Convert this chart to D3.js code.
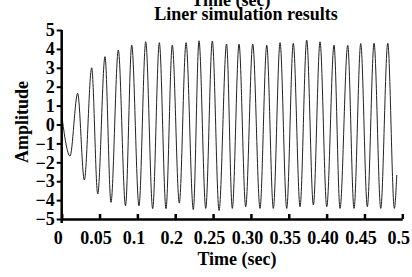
<!DOCTYPE html>
<html>
<head>
<meta charset="utf-8">
<script src="https://cdn.jsdelivr.net/npm/d3@7"></script>
<style>
  body { margin: 0; background: #fff; }
  svg { display: block; }
</style>
</head>
<body>
<div id="chart"></div>
<script>
// extrema of the response (time in s, amplitude)
const times = [0, 0.0110, 0.0211, 0.0299, 0.0396, 0.0476, 0.0572, 0.0651, 0.0748, 0.0843,
  0.0925, 0.1021, 0.1110, 0.1202, 0.1290, 0.1378, 0.1461, 0.1554, 0.1643, 0.1739,
  0.1814, 0.1903, 0.1990, 0.2079, 0.2178, 0.2254, 0.2343, 0.2431, 0.2524, 0.2620,
  0.2709, 0.2796, 0.2885, 0.2973, 0.3060, 0.3149, 0.3237, 0.3325, 0.3413, 0.3502,
  0.3598, 0.3677, 0.3779, 0.3862, 0.3951, 0.4038, 0.4127, 0.4215, 0.4308, 0.4395, 0.4427];
const amplitude = [0.5, -1.67, 1.65, -2.94, 3.0, -3.68, 3.59, -4.12, 3.94, -4.3,
  4.2, -4.3, 4.38, -4.45, 4.33, -4.45, 4.2, -4.16, 4.33, -4.5,
  4.43, -4.44, 4.42, -4.55, 4.26, -4.44, 4.26, -4.35, 4.26, -4.44,
  4.2, -4.44, 4.33, -4.44, 4.3, -4.35, 4.47, -4.26, 4.38, -4.35,
  4.2, -4.44, 4.19, -4.44, 4.28, -4.35, 4.3, -4.44, 4.3, -4.44, -2.67];

// tick positions are evenly spaced, labels as printed on the original
const xTickValues = [0, 0.05, 0.1, 0.15, 0.2, 0.25, 0.3, 0.35, 0.4, 0.45];
const xTickLabels = ["0", "0.05", "0.1", "0.2", "0.25", "0.30", "0.35", "0.40", "0.45", "0.5"];
const yTicks = [5, 4, 3, 2, 1, 0, -1, -2, -3, -4, -5];

const data = times.map((t, i) => ({t: t, v: amplitude[i]}));

const font = "'Liberation Serif', 'Times New Roman', Times, serif";

const width = 412;
const height = 277;
const margin = ({top: 30, right: 9.7, bottom: 58, left: 61.7});

const x = d3.scaleLinear()
      .domain([0, 0.45])
      .range([margin.left, width - margin.right]);

const y = d3.scaleLinear()
      .domain([-5, 5])
      .range([height - margin.bottom, margin.top]);

const svg = d3.select("#chart").append("svg")
      .attr("width", width)
      .attr("height", height)
      .attr("viewBox", [0, 0, width, height])
      .attr("font-family", font)
      .attr("font-weight", "bold");

const line = d3.line()
      .curve(d3.curveMonotoneX)
      .x(d => x(d.t))
      .y(d => y(d.v));

svg.append("path")
    .datum(data)
    .attr("fill", "none")
    .attr("stroke", "#222")
    .attr("stroke-width", 1)
    .attr("d", line);

const xAxis = g => g
      .attr("transform", `translate(0,${y(-5)})`)
      .call(d3.axisBottom(x)
            .tickValues(xTickValues)
            .tickFormat((d, i) => xTickLabels[i])
            .tickSize(-5)
            .tickSizeOuter(0)
            .tickPadding(12))
      .attr("font-family", font)
      .attr("font-size", 18)
      .call(g => g.select(".domain").attr("stroke-width", 2.5))
      .call(g => g.selectAll(".tick line").attr("stroke-width", 2.5))
      .call(g => g.selectAll(".tick text")
            .attr("fill", "#000")
            .attr("dx", -4));

const yAxis = g => g
      .attr("transform", `translate(${x(0)},0)`)
      .call(d3.axisLeft(y)
            .tickValues(yTicks)
            .tickSize(5)
            .tickSizeOuter(0)
            .tickPadding(2))
      .attr("font-family", font)
      .attr("font-size", 18)
      .call(g => g.select(".domain")
            .attr("d", `M0,${y(5)}V${y(-5) + 4}`)
            .attr("stroke-width", 2.5))
      .call(g => g.selectAll(".tick line").attr("stroke-width", 2))
      .call(g => g.selectAll(".tick text").attr("fill", "#000"));

svg.append("g").call(xAxis);
svg.append("g").call(yAxis);

svg.append("text")
    .attr("x", 231)
    .attr("y", 6)
    .attr("text-anchor", "middle")
    .attr("font-size", 18)
    .text("Time (sec)");

svg.append("text")
    .attr("x", 246)
    .attr("y", 20)
    .attr("text-anchor", "middle")
    .attr("font-size", 18)
    .text("Liner simulation results");

svg.append("text")
    .attr("x", 237)
    .attr("y", 265)
    .attr("text-anchor", "middle")
    .attr("font-size", 18)
    .text("Time (sec)");

svg.append("text")
    .attr("transform", `translate(28,122) rotate(-90)`)
    .attr("text-anchor", "middle")
    .attr("font-size", 18)
    .text("Amplitude");
</script>
</body>
</html>
